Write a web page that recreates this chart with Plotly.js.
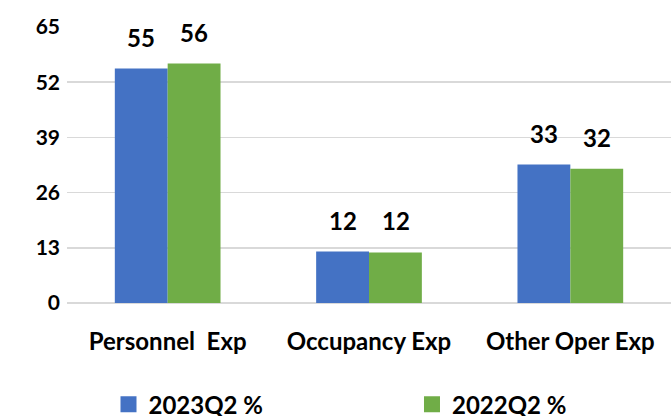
<!DOCTYPE html>
<html>
<head>
<meta charset="utf-8">
<script src="https://cdn.plot.ly/plotly-3.0.1.min.js"></script>
<style>html,body{margin:0;padding:0;background:#fff;}#chart{width:671px;height:416px;}</style>
</head>
<body>
<div id="chart"></div>
<script>
var categories = ["Personnel\u00a0\u00a0Exp", "Occupancy Exp", "Other Oper Exp"];
var series2023 = [55.2, 12.1, 32.6];
var series2022 = [56.4, 11.9, 31.6];
var seriesNames = ["2023Q2 %", "2022Q2 %"];
var yTicks = [0, 13, 26, 39, 52, 65];
var colors = ["#4472C4", "#70AD47"];

var FONT = "Lato, 'Open Sans', sans-serif";

var traces = [
  {type: "bar", name: seriesNames[0], x: categories, y: series2023, marker: {color: colors[0]}, hoverinfo: "none", showlegend: false},
  {type: "bar", name: seriesNames[1], x: categories, y: series2022, marker: {color: colors[1]}, hoverinfo: "none", showlegend: false},
  {type: "scatter", mode: "markers", name: seriesNames[0], x: [null], y: [null], legend: "legend",
   marker: {symbol: "square", size: 17, color: colors[0]}, hoverinfo: "none"},
  {type: "scatter", mode: "markers", name: seriesNames[1], x: [null], y: [null], legend: "legend2",
   marker: {symbol: "square", size: 17, color: colors[1]}, hoverinfo: "none"}
];

var annotations = [];
[series2023, series2022].forEach(function (vals, si) {
  vals.forEach(function (v, i) {
    annotations.push({
      x: categories[i], y: v, xref: "x", yref: "y",
      text: String(Math.round(v)), showarrow: false,
      xanchor: "center", yanchor: "bottom",
      xshift: si === 0 ? -26.5 : 26.5, yshift: 15,
      font: {family: FONT, size: 24, color: "#000", weight: 700}
    });
  });
});

annotations.push({
  text: "Non-Interest Expense Shares (%)", showarrow: false,
  xref: "paper", yref: "paper", x: 0.925, y: 1, xanchor: "right", yanchor: "bottom", yshift: 24,
  font: {family: FONT, size: 27, color: "#000", weight: 700}
});

function legendAt(x) {
  return {
    orientation: "h", xref: "container", yref: "container",
    x: x, xanchor: "left", y: 0.027, yanchor: "middle", itemwidth: 30,
    font: {family: FONT, size: 24, color: "#000", weight: 700},
    bgcolor: "rgba(0,0,0,0)"
  };
}

var layout = {
  width: 671, height: 416,
  margin: {l: 67, r: 0, t: 27, b: 113},
  paper_bgcolor: "#fff", plot_bgcolor: "#fff",
  font: {family: FONT, color: "#000"},
  barmode: "group", bargap: 0.475, bargroupgap: 0,
  xaxis: {
    type: "category", showgrid: false, zeroline: false, showline: false, ticks: "",
    tickfont: {family: FONT, size: 24, color: "#000", weight: 700},
    ticklabelstandoff: 22
  },
  yaxis: {
    range: [0, 65], tickmode: "array", tickvals: yTicks, ticktext: yTicks.map(String),
    showgrid: true, gridcolor: "#d9d9d9", gridwidth: 1.5,
    zeroline: true, zerolinecolor: "#d9d9d9", zerolinewidth: 1.5,
    showline: false, ticks: "",
    tickfont: {family: FONT, size: 21, color: "#000", weight: 700},
    ticklabelstandoff: 6
  },
  showlegend: true,
  legend: legendAt(0.1617),
  legend2: legendAt(0.614),
  annotations: annotations
};

Plotly.newPlot("chart", traces, layout, {staticPlot: true, displayModeBar: false});
</script>
</body>
</html>
